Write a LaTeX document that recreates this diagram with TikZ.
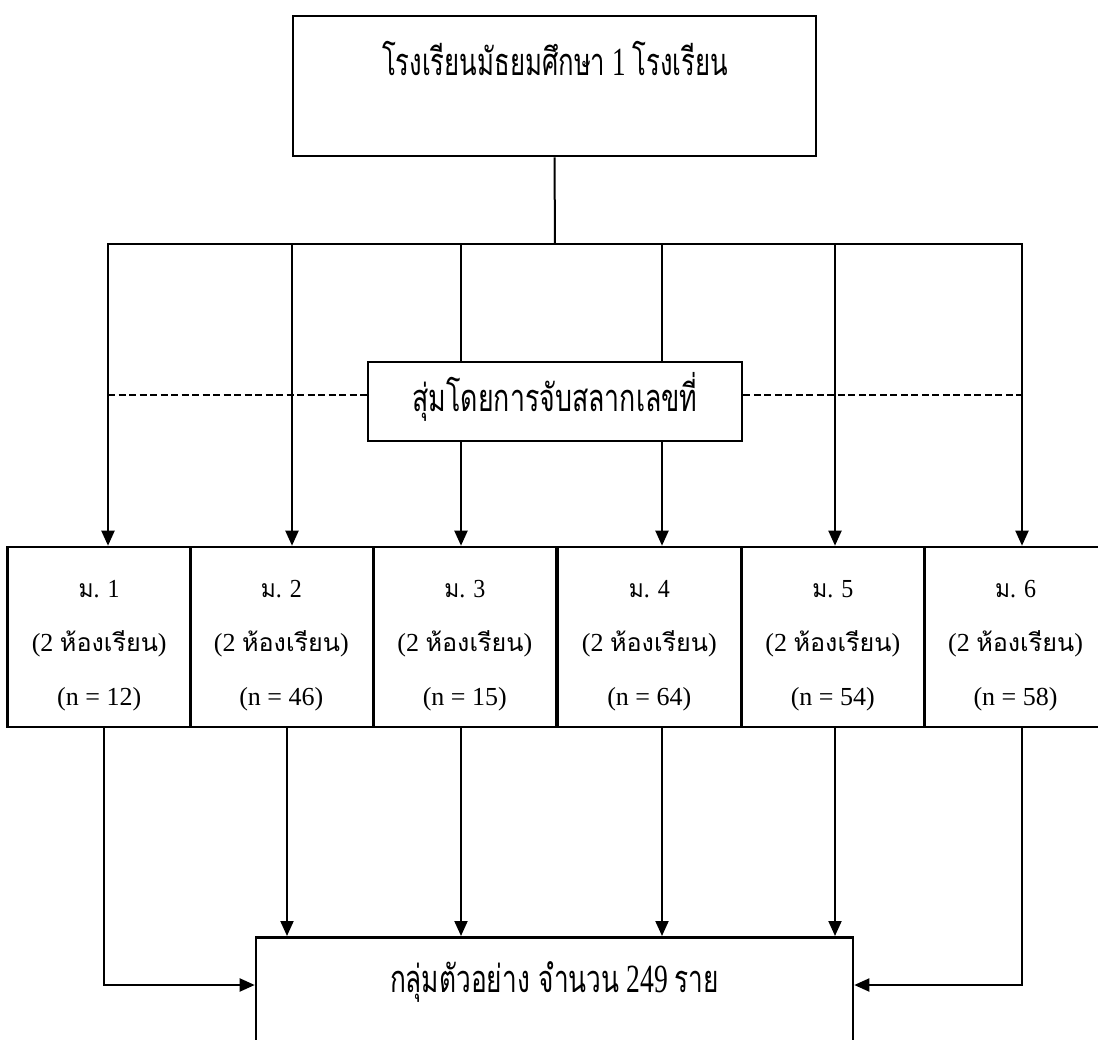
\documentclass[tikz,border=0pt]{standalone}
\usepackage{fontspec}
\setmainfont{Liberation Serif}
\newfontfamily\thai[Script=Thai,Scale=0.95]{Loma}
\usetikzlibrary{arrows.meta,calc}
\newcommand{\fitw}[2]{\resizebox{#1}{\height}{#2}}
\begin{document}
\begin{tikzpicture}[x=1pt,y=-1pt,
  box/.style={draw, line width=2.6pt, inner sep=0pt},
  gradebox/.style={box, minimum width=183pt, minimum height=180pt},
  conn/.style={line width=2pt},
  arr/.style={conn, -{Triangle[length=15pt,width=13pt]}},
  dashline/.style={line width=2pt, dash pattern=on 7pt off 3.5pt},
  txt/.style={inner sep=0pt, anchor=base},
  bigtxt/.style={txt, font=\fontsize{40}{48}\selectfont},
  smalltxt/.style={txt, font=\fontsize{26}{31}\selectfont}]
\useasboundingbox (0,0) rectangle (1098,1040);
\clip (0,0) rectangle (1098,1040);
\fill[white] (0,0) rectangle (1098,1040);

% top box
\node[box, minimum width=523pt, minimum height=140pt] (top) at (554.5,86) {};
\node[bigtxt] (toptxt) at (555,76) {\fitw{346pt}{{\thai โรงเรียนมัธยมศึกษา} 1 {\thai โรงเรียน}}};

% grade boxes
\node[gradebox] (g1) at (99.2,637) {};
\node[gradebox] (g2) at (281.3,637) {};
\node[gradebox] (g3) at (464.8,637) {};
\node[gradebox] (g4) at (649.3,637) {};
\node[gradebox] (g5) at (832.8,637) {};
\node[gradebox] (g6) at (1015.5,637) {};

% bus and verticals
\coordinate (bus) at (555,244);
\coordinate (b1) at (108,244);
\coordinate (b2) at (292,244);
\coordinate (b3) at (461,244);
\coordinate (b4) at (662,244);
\coordinate (b5) at (835,244);
\coordinate (b6) at (1022,244);
\draw[conn] (top.south) -- (bus);
\draw[conn, line cap=rect] (b1) -- (b6);
\foreach \i in {1,...,6} {
  \draw[arr] (b\i) -- (b\i |- g\i.north);
}

% dashed line and middle box
\coordinate (dL) at (108,395);
\coordinate (dR) at (1022,395);
\node[box, fill=white, minimum width=374pt, minimum height=79pt] (mid) at (555,401.5) {};
\node[bigtxt] (midtxt) at (555,412) {\fitw{285pt}{\thai สุ่มโดยการจับสลากเลขที่}};
\draw[dashline] (dL) -- (dL -| mid.west);
\draw[dashline] (dR -| mid.east) -- (dR);

% grade texts
\foreach \i/\n/\c in {1/1/12, 2/2/46, 3/3/15, 4/4/64, 5/5/54, 6/6/58} {
  \node[smalltxt] (g\i a) at ($(g\i.center)+(0,-40)$) {\fitw{41pt}{{\thai ม}. \n}};
  \node[smalltxt] (g\i b) at ($(g\i.center)+(0,14)$) {(2 \fitw{98pt}{\thai ห้องเรียน})};
  \node[smalltxt] (g\i c) at ($(g\i.center)+(0,68)$) {(n = \c)};
}

% bottom box
\node[box, minimum width=597pt, minimum height=140pt, anchor=north] (bot) at (554.5,936) {};
\node[bigtxt] (bottxt) at (554.5,992) {\fitw{329pt}{{\thai กลุ่มตัวอย่าง จำนวน} 249 {\thai ราย}}};

\coordinate (c1) at (104,727);
\coordinate (c2) at (287,727);
\coordinate (c3) at (461,727);
\coordinate (c4) at (662,727);
\coordinate (c5) at (835,727);
\coordinate (c6) at (1022,727);
\foreach \i in {2,...,5} {
  \draw[arr] (c\i) -- (c\i |- bot.north);
}
\draw[arr] (c1) |- ($(bot.north west)+(0,49)$);
\draw[arr] (c6) |- ($(bot.north east)+(0,49)$);
\end{tikzpicture}
\end{document}
